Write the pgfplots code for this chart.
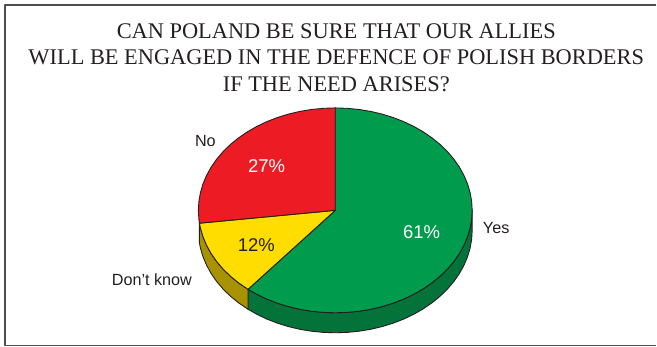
\documentclass[border=0pt]{standalone}
\usepackage{pgfplots}
\pgfplotsset{compat=1.18}
\usepackage{fontspec}
\setmainfont{Liberation Sans}
\newfontfamily\titlefont{Liberation Serif}
\definecolor{edge}{HTML}{231F20}
\definecolor{yesTop}{HTML}{009B4D}
\definecolor{yesSide}{HTML}{04733A}
\definecolor{dkTop}{HTML}{FFDD00}
\definecolor{dkSide}{HTML}{A89200}
\definecolor{noTop}{HTML}{ED1C24}
\begin{document}
\begin{tikzpicture}
\begin{axis}[
  scale only axis, width=657pt, height=347pt,
  xmin=0, xmax=657, ymin=0, ymax=347, y dir=reverse,
  hide axis, clip=false,
  every axis plot/.style={line width=0.9pt, draw=edge, line join=round, no markers},
]
% page extent
\addplot[draw=none, fill=none, line width=0pt] coordinates {(0,0) (657,0) (657,347) (0,347)};
% outer frame, open on the right
\addplot[draw=edge!80!white, line width=1.1pt, fill=none] coordinates {(656.9,5) (5,5) (5,345.5) (656.9,345.5)};

% side walls, depth 20
\addplot[fill=yesSide] coordinates {
(472.5,210.5)(471.98,219.44)(470.42,228.30)(467.83,237.03)(464.24,245.56)(459.66,253.82)(454.14,261.75)(447.73,269.29)(440.44,276.39)(432.37,282.98)(423.56,289.02)(414.08,294.47)(404.0,299.27)(393.40,303.40)(382.36,306.82)(370.96,309.51)(359.29,311.44)(347.44,312.61)(335.5,313)(323.56,312.61)(311.71,311.44)(300.04,309.51)(288.64,306.82)(277.60,303.40)(267.0,299.27)(256.92,294.47)(248.18,289.48)
(248.18,309.48)(256.92,314.47)(267.0,319.27)(277.60,323.40)(288.64,326.82)(300.04,329.51)(311.71,331.44)(323.56,332.61)(335.5,333)(347.44,332.61)(359.29,331.44)(370.96,329.51)(382.36,326.82)(393.40,323.40)(404.0,319.27)(414.08,314.47)(423.56,309.02)(432.37,302.98)(440.44,296.39)(447.73,289.29)(454.14,281.75)(459.66,273.82)(464.24,265.56)(467.83,257.03)(470.42,248.30)(471.98,239.44)(472.5,230.5)
} -- cycle;
\addplot[fill=dkSide] coordinates {
(248.18,289.48)(238.63,282.98)(230.56,276.39)(223.27,269.29)(216.86,261.75)(211.34,253.82)(206.76,245.56)(203.17,237.03)(200.58,228.30)(199.58,223.35)
(199.58,243.35)(200.58,248.30)(203.17,257.03)(206.76,265.56)(211.34,273.82)(216.86,281.75)(223.27,289.29)(230.56,296.39)(238.63,302.98)(248.18,309.48)
} -- cycle;

% top faces: 61 percent, 12 percent, 27 percent
\addplot[fill=yesTop] coordinates {
(335.5,210.5)(335.5,108)(347.44,108.39)(359.29,109.56)(370.96,111.49)(382.36,114.18)(393.40,117.60)(404.0,121.73)(414.08,126.53)(423.56,131.98)(432.37,138.02)(440.44,144.61)(447.73,151.71)(454.14,159.25)(459.66,167.18)(464.24,175.44)(467.83,183.97)(470.42,192.70)(471.98,201.56)(472.5,210.5)(471.98,219.44)(470.42,228.30)(467.83,237.03)(464.24,245.56)(459.66,253.82)(454.14,261.75)(447.73,269.29)(440.44,276.39)(432.37,282.98)(423.56,289.02)(414.08,294.47)(404.0,299.27)(393.40,303.40)(382.36,306.82)(370.96,309.51)(359.29,311.44)(347.44,312.61)(335.5,313)(323.56,312.61)(311.71,311.44)(300.04,309.51)(288.64,306.82)(277.60,303.40)(267.0,299.27)(256.92,294.47)(248.18,289.48)
} -- cycle;
\addplot[fill=dkTop] coordinates {
(335.5,210.5)(248.18,289.48)(247.44,289.02)(238.63,282.98)(230.56,276.39)(223.27,269.29)(216.86,261.75)(211.34,253.82)(206.76,245.56)(203.17,237.03)(200.58,228.30)(199.58,223.35)
} -- cycle;
\addplot[fill=noTop] coordinates {
(335.5,210.5)(199.58,223.35)(199.02,219.44)(198.5,210.5)(199.02,201.56)(200.58,192.70)(203.17,183.97)(206.76,175.44)(211.34,167.18)(216.86,159.25)(223.27,151.71)(230.56,144.61)(238.63,138.02)(247.44,131.98)(256.92,126.53)(267.0,121.73)(277.60,117.60)(288.64,114.18)(300.04,111.49)(311.71,109.56)(323.56,108.39)(335.5,108)
} -- cycle;

% title
\node[font=\titlefont\fontsize{22.4}{26.6}\selectfont, text=edge, align=center, anchor=center, inner sep=0pt]
  at (axis cs:336.5,57.5) {CAN POLAND BE SURE THAT OUR ALLIES\\WILL BE ENGAGED IN THE DEFENCE OF POLISH BORDERS\\IF THE NEED ARISES?};

% slice values
\node[font=\fontsize{18.5}{20}\selectfont, text=white] at (axis cs:421.8,232.5) {61\%};
\node[font=\fontsize{18.5}{20}\selectfont, text=white] at (axis cs:266.8,166) {27\%};
\node[font=\fontsize{18.5}{20}\selectfont, text=edge] at (axis cs:256.5,245) {12\%};

% slice names
\node[font=\fontsize{16.2}{18}\selectfont, text=edge] at (axis cs:496.5,228.5) {Yes};
\node[font=\fontsize{16.2}{18}\selectfont, text=edge] at (axis cs:205.5,141) {No};
\node[font=\fontsize{16.2}{18}\selectfont, text=edge] at (axis cs:152,280) {Don’t know};
\end{axis}
\end{tikzpicture}
\end{document}
